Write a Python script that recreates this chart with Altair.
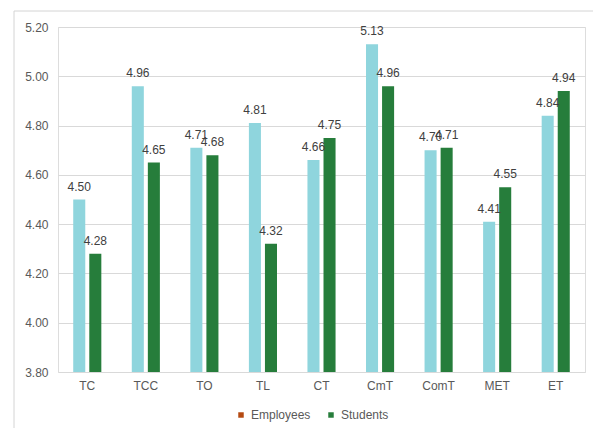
import altair as alt
import pandas as pd

categories = ["TC", "TCC", "TO", "TL", "CT", "CmT", "ComT", "MET", "ET"]
employees = [4.50, 4.96, 4.71, 4.81, 4.66, 5.13, 4.70, 4.41, 4.84]
students = [4.28, 4.65, 4.68, 4.32, 4.75, 4.96, 4.71, 4.55, 4.94]
groups = ["Employees", "Students"]
y_ticks = [3.80, 4.00, 4.20, 4.40, 4.60, 4.80, 5.00, 5.20]

bar_colors = ["#8fd5dd", "#267d3b"]
legend_colors = ["#b54a12", "#267d3b"]

rows = []
for i, cat in enumerate(categories):
    rows.append({"cat": cat, "group": groups[0], "value": employees[i]})
    rows.append({"cat": cat, "group": groups[1], "value": students[i]})
df = pd.DataFrame(rows)

W, H = 527, 345
FONT = "Liberation Sans"

x_enc = alt.X(
    "cat:N",
    sort=categories,
    title=None,
    scale=alt.Scale(paddingInner=0.52, paddingOuter=0.26),
    axis=alt.Axis(labelAngle=0, ticks=False, domain=False, grid=False, labelPadding=8,
                  labelFontSize=12, labelColor="#595959", labelFont=FONT),
)
xoff = alt.XOffset("group:N", sort=groups, scale=alt.Scale(paddingInner=0.25))
y_scale = alt.Scale(domain=[y_ticks[0], y_ticks[-1]], zero=False, nice=False)
y_axis = alt.Axis(values=y_ticks, format=".2f", ticks=False, domain=False,
                  labelPadding=10, labelFontSize=12, labelColor="#595959",
                  labelFont=FONT, gridColor="#d9d9d9", gridWidth=1)
y_enc = alt.Y("value:Q", title=None, scale=y_scale, axis=y_axis)

base = alt.Chart(df)
one = pd.DataFrame({"k": [0]})

# outer frame: top and left edges of the chart box
frame_top = alt.Chart(one).mark_rule(stroke="#d4d4d4", strokeWidth=1).encode(
    x=alt.value(-44), x2=alt.value(W + 60), y=alt.value(-16)
)
frame_left = alt.Chart(one).mark_rule(stroke="#d4d4d4", strokeWidth=1).encode(
    x=alt.value(-44), y=alt.value(-16), y2=alt.value(H + 100)
)

bars = base.mark_bar().encode(
    x=x_enc,
    xOffset=xoff,
    y=y_enc,
    y2=alt.Y2(datum=y_ticks[0]),
    color=alt.Color("group:N", sort=groups,
                    scale=alt.Scale(domain=groups, range=bar_colors), legend=None),
)

labels = base.mark_text(dy=-13, fontSize=12, font=FONT, color="#404040").encode(
    x=x_enc,
    xOffset=xoff,
    y=y_enc,
    text=alt.Text("value:Q", format=".2f"),
)

legend_layer = base.mark_square(opacity=0).encode(
    x=x_enc,
    xOffset=xoff,
    y=y_enc,
    fill=alt.Fill(
        "group:N", sort=groups,
        scale=alt.Scale(domain=groups, range=legend_colors),
        legend=alt.Legend(
            title=None, orient="none", direction="horizontal",
            legendX=177, legendY=382, symbolType="square", symbolSize=30,
            symbolOpacity=1, symbolStrokeWidth=0, labelFontSize=12,
            labelFont=FONT, labelColor="#595959", labelOffset=4,
            columnPadding=14,
        ),
    ),
)

chart = (
    alt.layer(frame_top, frame_left, bars, labels, legend_layer)
    .resolve_scale(color="independent")
    .properties(
        width=W,
        height=H,
        autosize=alt.AutoSizeParams(type="none"),
        padding={"left": 58, "top": 27, "right": 8, "bottom": 56},
    )
    .configure_axis(domain=False, ticks=False, domainOpacity=0)
    .configure_axisX(grid=False, gridOpacity=0)
    .configure_view(strokeWidth=0, stroke="transparent", strokeOpacity=0)
    .configure(background="white")
)

chart.save("out.html", embed_options={"renderer": "svg", "actions": False})
